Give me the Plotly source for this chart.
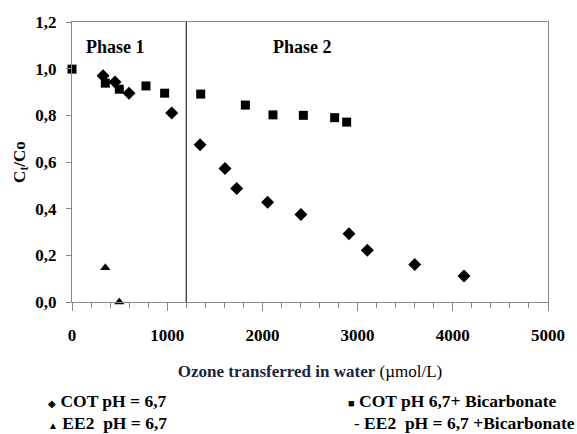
import plotly.graph_objects as go

# Data
cot_x = [326, 452, 599, 1047, 1345, 1607, 1730, 2055, 2405, 2910, 3102, 3600, 4118]
cot_y = [0.97, 0.943, 0.895, 0.81, 0.674, 0.572, 0.486, 0.428, 0.375, 0.292, 0.222, 0.161, 0.111]

cotb_x = [0, 350, 497, 777, 973, 1352, 1821, 2111, 2430, 2759, 2885]
cotb_y = [0.998, 0.938, 0.912, 0.926, 0.895, 0.891, 0.844, 0.802, 0.80, 0.79, 0.771]

ee2_x = [350, 497]
ee2_y = [0.147, 0.0]

ee2b_x = []
ee2b_y = []

x_ticks = [0, 1000, 2000, 3000, 4000, 5000]
x_ticklabels = ["0", "1000", "2000", "3000", "4000", "5000"]
y_ticks = [0.0, 0.2, 0.4, 0.6, 0.8, 1.0, 1.2]
y_ticklabels = ["0,0", "0,2", "0,4", "0,6", "0,8", "1,0", "1,2"]

legend_labels = ["COT pH = 6,7", "COT pH 6,7+ Bicarbonate",
                 "EE2  pH = 6,7", "EE2  pH = 6,7 +Bicarbonate"]
legend_glyphs = ["◆", "■", "▲", "-"]

phase_boundary = 1200
x_range = [0, 5000]
y_range = [0, 1.2]

FONT = "Liberation Serif, Times New Roman, serif"

fig = go.Figure()
fig.add_trace(go.Scatter(x=cot_x, y=cot_y, mode="markers", name=legend_labels[0], cliponaxis=False,
                         marker=dict(symbol="diamond", size=10, color="black")))
fig.add_trace(go.Scatter(x=cotb_x, y=cotb_y, mode="markers", name=legend_labels[1], cliponaxis=False,
                         marker=dict(symbol="square", size=9, color="black")))
fig.add_trace(go.Scatter(x=ee2_x, y=ee2_y, mode="markers", name=legend_labels[2], cliponaxis=False,
                         marker=dict(symbol="triangle-up", size=9, color="black")))
fig.add_trace(go.Scatter(x=ee2b_x, y=ee2b_y, mode="markers", name=legend_labels[3], cliponaxis=False,
                         marker=dict(symbol="line-ew-open", size=7, color="black",
                                     line=dict(width=1.5, color="black"))))

fig.add_shape(type="line", x0=phase_boundary, x1=phase_boundary, y0=0, y1=1.2,
              xref="x", yref="y", line=dict(color="black", width=1))

fig.add_annotation(x=452, y=1.094, text="<b>Phase 1</b>", showarrow=False,
                   font=dict(family=FONT, size=18, color="black"))
fig.add_annotation(x=2420, y=1.094, text="<b>Phase 2</b>", showarrow=False,
                   font=dict(family=FONT, size=18, color="black"))

# Legend drawn as text (two columns, two rows) under the axis title
L, W, B, H = 72, 476, 302, 280
def px(x):
    return (x - L) / W
def py(y):
    return (B - y) / H
legend_pos = [(46, 401), (346, 401), (46, 423), (352, 423)]
glyph_sizes = [10, 11, 10, 17]
for glyph, lab, (lx, ly), gs in zip(legend_glyphs, legend_labels, legend_pos, glyph_sizes):
    fig.add_annotation(xref="paper", yref="paper", x=px(lx), y=py(ly),
                       xanchor="left", yanchor="middle", showarrow=False,
                       text=f"<span style='font-size:{gs}px'>{glyph}</span> <b>{lab.replace('  ', '&nbsp; ')}</b>",
                       font=dict(family=FONT, size=17.5, color="black"))

fig.update_xaxes(range=x_range, tickmode="array", tickvals=x_ticks,
                 ticktext=[f"<b>{t}</b>" for t in x_ticklabels],
                 ticks="outside", ticklen=8, tickcolor="#888",
                 minor=dict(ticks="outside", ticklen=5, dtick=200, tick0=0, tickcolor="#888"),
                 showline=True, linecolor="#888", linewidth=1, mirror=True,
                 showgrid=False, zeroline=False, ticklabelstandoff=10,
                 tickfont=dict(family=FONT, size=17, color="black"),
                 title=dict(text="<b><span style='color:#1a2540'>Ozone transferred in water</span></b> (µmol/L)",
                            font=dict(family=FONT, size=17, color="black"), standoff=20))
fig.update_yaxes(range=y_range, tickmode="array", tickvals=y_ticks,
                 ticktext=[f"<b>{t}</b>" for t in y_ticklabels],
                 ticks="outside", ticklen=5, tickcolor="#888",
                 showline=True, linecolor="#888", linewidth=1, mirror=True,
                 showgrid=False, zeroline=False, ticklabelstandoff=6,
                 tickfont=dict(family=FONT, size=17, color="black"),
                 title=dict(text="<b>C<sub>t</sub>/Co</b>", font=dict(family=FONT, size=17, color="black"),
                            standoff=5))

fig.update_layout(
    width=577, height=434,
    margin=dict(l=72, r=29, t=22, b=132, autoexpand=False),
    paper_bgcolor="white", plot_bgcolor="white",
    showlegend=False,
)

fig.write_html("out.html")
